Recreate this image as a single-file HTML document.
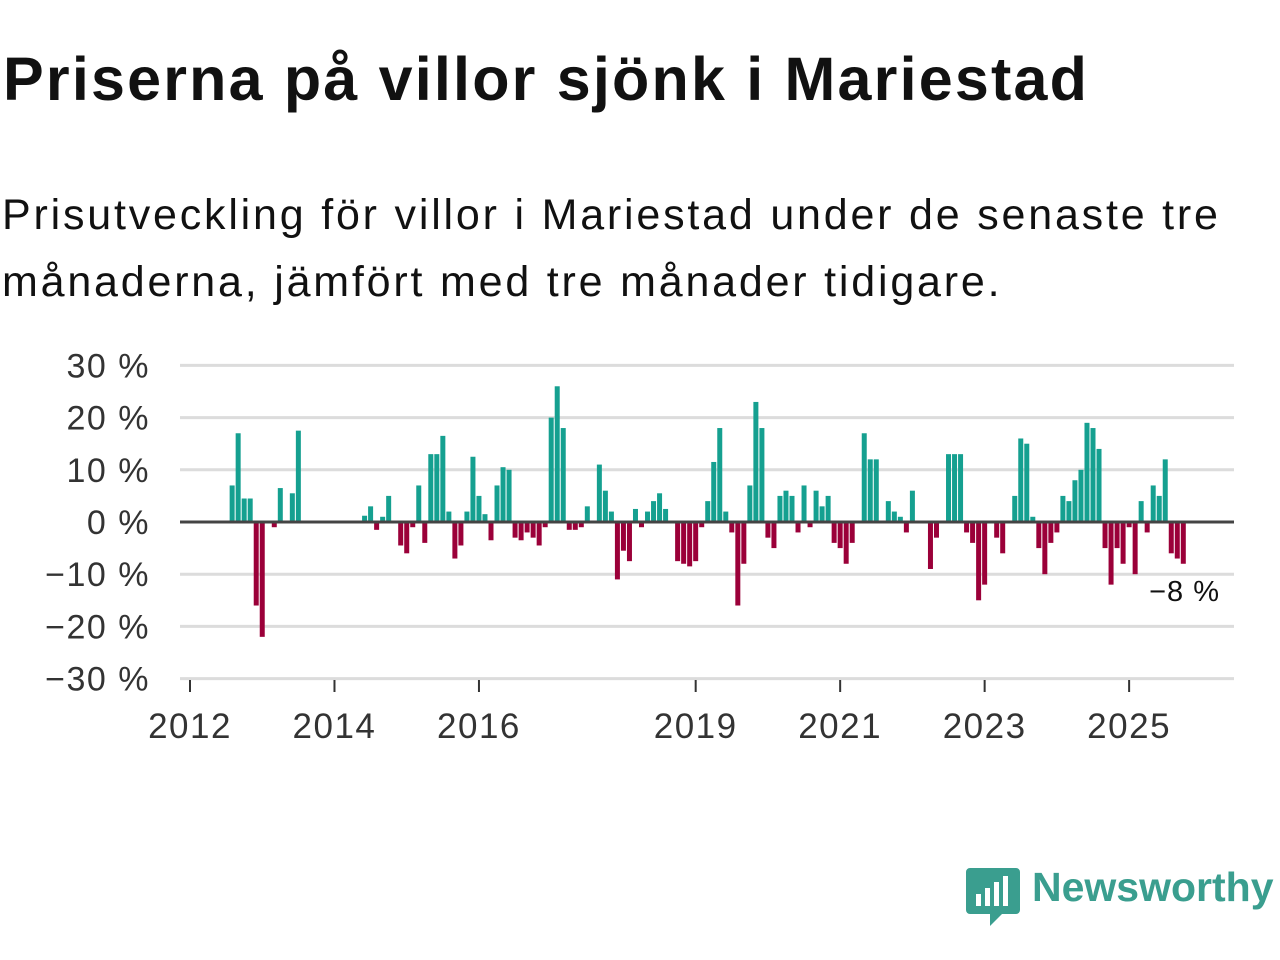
<!DOCTYPE html>
<html><head><meta charset="utf-8"><style>
body{margin:0;width:1280px;height:960px;background:#fff;font-family:"Liberation Sans",sans-serif;overflow:hidden;position:relative}
#title{position:absolute;left:3px;top:44px;font-size:61px;font-weight:bold;color:#111;margin:0;letter-spacing:2.2px}
#sub{position:absolute;left:2px;top:182px;font-size:43px;color:#111;line-height:67px;margin:0;letter-spacing:2.8px}
svg{position:absolute;left:0;top:0}
</style></head><body>
<h1 id="title">Priserna på villor sjönk i Mariestad</h1>
<p id="sub">Prisutveckling för villor i Mariestad under de senaste tre<br>månaderna, jämfört med tre månader tidigare.</p>
<svg id="chart" width="1280" height="960"></svg>
<script>
const yTicks=[30,20,10,0,-10,-20,-30];
const yTickLabels=["30 %","20 %","10 %","0 %","−10 %","−20 %","−30 %"];
const xTickYears=[2012,2014,2016,2019,2021,2023,2025];
const monthIndex=[7,8,9,10,11,12,14,15,17,18,29,30,31,32,33,35,36,37,38,39,40,41,42,43,44,45,46,47,48,49,50,51,52,53,54,55,56,57,58,59,60,61,62,63,64,65,66,68,69,70,71,72,73,74,75,76,77,78,79,81,82,83,84,85,86,87,88,89,90,91,92,93,94,95,96,97,98,99,100,101,102,103,104,105,106,107,108,109,110,112,113,114,116,117,118,119,120,123,124,126,127,128,129,130,131,132,134,135,137,138,139,140,141,142,143,144,145,146,147,148,149,150,151,152,153,154,155,156,157,158,159,160,161,162,163,164,165];
const values=[7,17,4.5,4.5,-16,-22,-1,6.5,5.5,17.5,1.2,3,-1.5,1,5,-4.5,-6,-1,7,-4,13,13,16.5,2,-7,-4.5,2,12.5,5,1.5,-3.5,7,10.5,10,-3,-3.5,-2,-3,-4.5,-1,20,26,18,-1.5,-1.5,-1,3,11,6,2,-11,-5.5,-7.5,2.5,-1,2,4,5.5,2.5,-7.5,-8,-8.5,-7.5,-1,4,11.5,18,2,-2,-16,-8,7,23,18,-3,-5,5,6,5,-2,7,-1,6,3,5,-4,-5,-8,-4,17,12,12,4,2,1,-2,6,-9,-3,13,13,13,-2,-4,-15,-12,-3,-6,5,16,15,1,-5,-10,-4,-2,5,4,8,10,19,18,14,-5,-12,-5,-8,-1,-10,4,-2,7,5,12,-6,-7,-8];
const lastLabel="−8 %";
const NS="http://www.w3.org/2000/svg";
const svg=document.getElementById('chart');
const x=m=>190+m*6.02;
const y=v=>522-v*5.22;
function el(t,a,p){const e=document.createElementNS(NS,t);for(const k in a)e.setAttribute(k,a[k]);(p||svg).appendChild(e);return e;}
yTicks.forEach((t,i)=>{
  if(t!==0){const g=el('line',{x1:180,x2:1234,y1:y(t),y2:y(t),stroke:'#dcdcdc','stroke-width':3});
  
  }
  const l=el('text',{x:150,y:y(t)+12,'text-anchor':'end','font-size':34,fill:'#333','letter-spacing':1.5});
  l.textContent=yTickLabels[i];
  
  
});
xTickYears.forEach(yr=>{
  const m=(yr-2012)*12;
  const tk=el('line',{x1:x(m),x2:x(m),y1:680,y2:692,stroke:'#333','stroke-width':2});
  
  
  const l=el('text',{x:x(m),y:738,'text-anchor':'middle','font-size':35,fill:'#333','letter-spacing':1.5});
  l.textContent=yr;
  
  
});
values.forEach((v,i)=>{
  const m=monthIndex[i];
  const r=el('rect',{x:x(m)-2.5,width:5,y:Math.min(y(v),y(0)),height:Math.abs(y(v)-y(0)),fill:v>=0?'#15a090':'#9b0039'});
  
  
});
const z=el('line',{x1:180,x2:1234,y1:y(0),y2:y(0),stroke:'#444','stroke-width':3});


const ll=el('text',{x:1220,y:601,'text-anchor':'end','font-size':29,fill:'#111','letter-spacing':1});
ll.textContent=lastLabel;


</script>
<svg width="60" height="64" style="left:964px;top:866px">
<path d="M4 2h48a4 4 0 0 1 4 4v38a4 4 0 0 1-4 4H38l-12 12V48H6a4 4 0 0 1-4-4V6a4 4 0 0 1 4-4z" fill="#3a9e8f"/>
<rect x="12" y="28" width="5" height="12" fill="#fff"/><rect x="21" y="22" width="5" height="18" fill="#fff"/><rect x="30" y="16" width="5" height="24" fill="#fff"/><rect x="39" y="10" width="5" height="30" fill="#fff"/>
</svg>
<div style="position:absolute;left:1032px;top:864px;font-size:41px;color:#3a9e8f;font-weight:bold">Newsworthy</div>
</body></html>
